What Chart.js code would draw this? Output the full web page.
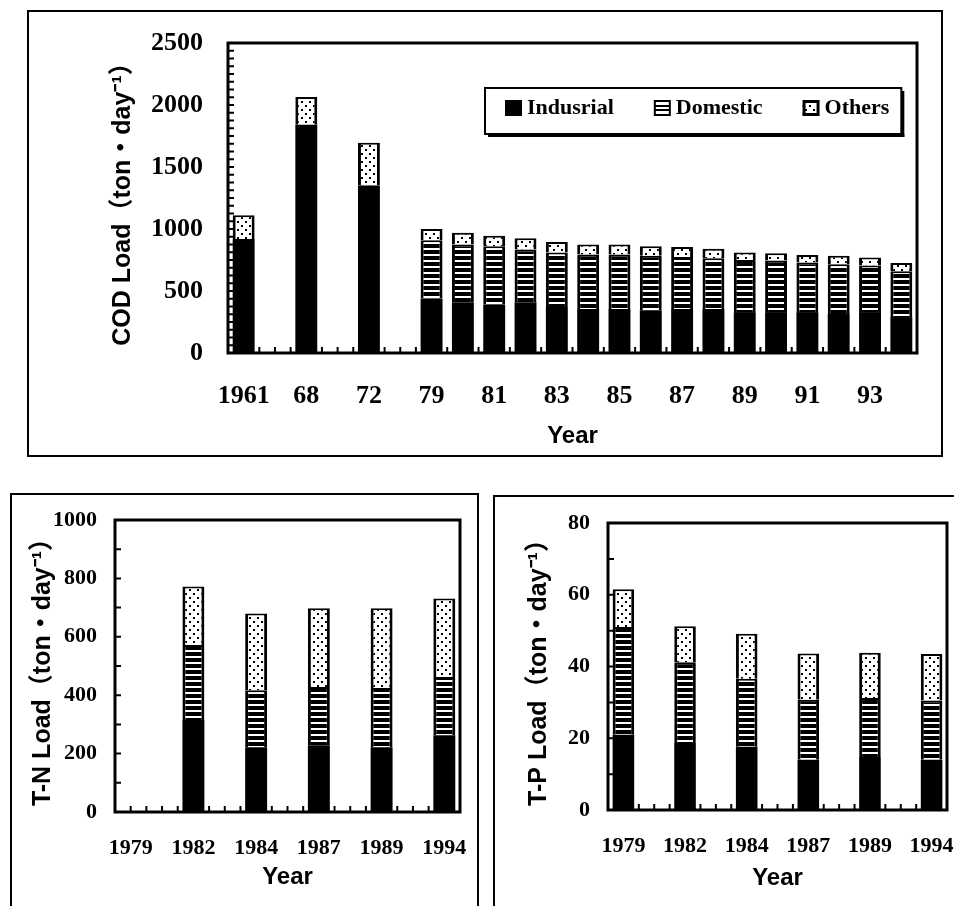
<!DOCTYPE html>
<html>
<head>
<meta charset="utf-8">
<script src="https://cdn.jsdelivr.net/npm/chart.js@4.4.0/dist/chart.umd.min.js"></script>
<style>
  html, body { margin: 0; padding: 0; background: #fff; width: 954px; height: 906px; overflow: hidden; }
  .frame { position: absolute; border: 2px solid #000; box-sizing: border-box; }
  canvas { position: absolute; }
</style>
</head>
<body>
<div class="frame" style="left:27px;top:10px;width:916px;height:447px"></div>
<div class="frame" style="left:10px;top:493px;width:469px;height:430px"></div>
<div class="frame" style="left:493px;top:495px;width:480px;height:430px"></div>
<canvas id="codChart" width="954" height="470" style="left:0;top:0"></canvas>
<canvas id="tnChart" width="480" height="426" style="left:0;top:480px"></canvas>
<canvas id="tpChart" width="474" height="426" style="left:480px;top:480px"></canvas>
<script>
// COD load (ton/day), empty slots keep the gaps between the early years
var codYears = ['1961', '', '1968', '', '1972', '', '1979', '1980', '1981', '1982', '1983', '1984', '1985', '1986',
    '1987', '1988', '1989', '1990', '1991', '1992', '1993', '1994'];
var codTickLabels = ['1961', '', '68', '', '72', '', '79', '', '81', '', '83', '', '85', '', '87', '', '89', '', '91', '', '93', ''];
var codIndustrial = [920, null, 1840, null, 1350, null, 440, 410, 390, 410, 370, 355, 355, 345, 355, 355, 330, 330, 330, 315, 330, 290];
var codDomestic = [null, null, null, null, null, null, 470, 465, 470, 425, 440, 440, 440, 440, 420, 410, 420, 415, 400, 400, 375, 370];
var codOthers = [190, null, 225, null, 345, null, 90, 95, 85, 90, 85, 80, 80, 75, 80, 75, 60, 60, 60, 70, 65, 65];
var codTicks = [0, 500, 1000, 1500, 2000, 2500];

// T-N load (ton/day)
var nYears = ['1979', '', '1982', '', '1984', '', '1987', '', '1989', '', '1994'];
var nIndustrial = [null, null, 315, null, 222, null, 229, null, 222, null, 263];
var nDomestic = [null, null, 257, null, 195, null, 199, null, 203, null, 199];
var nOthers = [null, null, 200, null, 263, null, 270, null, 273, null, 269];
var nTicks = [0, 200, 400, 600, 800, 1000];

// T-P load (ton/day)
var pYears = ['1979', '', '1982', '', '1984', '', '1987', '', '1989', '', '1994'];
var pIndustrial = [21, null, 18.7, null, 17.6, null, 14, null, 14.8, null, 14];
var pDomestic = [30, null, 22.5, null, 19, null, 16.7, null, 16.4, null, 16.5];
var pOthers = [10.5, null, 10, null, 12.5, null, 12.9, null, 12.6, null, 13];
var pTicks = [0, 20, 40, 60, 80];

var serif = "'Liberation Serif', 'Times New Roman', serif";
var sans = "'Liberation Sans', Arial, 'Noto Sans CJK JP', sans-serif";


function makeStripes(ctx) {
    var c = document.createElement('canvas');
    c.width = 6; c.height = 6;
    var g = c.getContext('2d');
    g.fillStyle = '#000';
    g.fillRect(0, 0, 6, 6);
    g.fillStyle = '#fff';
    g.fillRect(0, 2, 6, 2);
    return ctx.createPattern(c, 'repeat');
}

function makeDots(ctx) {
    var c = document.createElement('canvas');
    c.width = 8; c.height = 8;
    var g = c.getContext('2d');
    g.fillStyle = '#fff';
    g.fillRect(0, 0, 8, 8);
    g.fillStyle = '#000';
    g.fillRect(1, 1, 2, 2);
    g.fillRect(5, 5, 2, 2);
    return ctx.createPattern(c, 'repeat');
}

function buildDatasets(ctx, ind, dom, oth) {
    var edge = { left: 3, right: 3, top: 2, bottom: 0 };
    return [
        { label: 'Indusrial', data: ind, backgroundColor: '#000', borderWidth: 0 },
        { label: 'Domestic', data: dom, backgroundColor: makeStripes(ctx), borderColor: '#000', borderWidth: edge },
        { label: 'Others', data: oth, backgroundColor: makeDots(ctx), borderColor: '#000', borderWidth: edge }
    ];
}

// inward tick marks + heavy frame round the plot area
var axisDecor = {
    id: 'axisDecor',
    beforeDatasetsDraw: function (chart, args, opts) {
        var ctx = chart.ctx, a = chart.chartArea, x = chart.scales.x, y = chart.scales.y;
        ctx.save();
        ctx.strokeStyle = '#000';
        ctx.lineWidth = 2;
        ctx.beginPath();
        for (var v = y.min; v <= y.max + 1e-6; v += opts.minorStep) {
            var py = y.getPixelForValue(v);
            ctx.moveTo(a.left, py);
            ctx.lineTo(a.left + 6, py);
        }
        var slot = x.getPixelForValue(1) - x.getPixelForValue(0);
        for (var i = 0; i < chart.data.labels.length; i++) {
            var px = x.getPixelForValue(i);
            ctx.moveTo(px - slot / 2, a.bottom);
            ctx.lineTo(px - slot / 2, a.bottom - 6);
            ctx.moveTo(px, a.bottom);
            ctx.lineTo(px, a.bottom - 6);
        }
        ctx.stroke();
        ctx.restore();
    },
    afterDatasetsDraw: function (chart) {
        var ctx = chart.ctx, a = chart.chartArea;
        ctx.save();
        ctx.strokeStyle = '#000';
        ctx.lineWidth = 3;
        ctx.strokeRect(a.left, a.top, a.right - a.left, a.bottom - a.top);
        ctx.restore();
    }
};

// boxed legend inside the plot area (top chart only)
var boxLegend = {
    id: 'boxLegend',
    afterDraw: function (chart, args, opts) {
        if (!opts.show) return;
        var ctx = chart.ctx, a = chart.chartArea, sets = chart.data.datasets;
        ctx.save();
        ctx.font = 'bold 22px ' + serif;
        var sw = 17, gap = 40, widths = [];
        var total = 20 + 12;
        for (var i = 0; i < sets.length; i++) {
            widths.push(ctx.measureText(sets[i].label).width);
            total += sw + 5 + widths[i] + (i > 0 ? gap : 0);
        }
        var left = a.left + opts.offsetX, top = a.top + opts.offsetY, h = 46;
        ctx.fillStyle = '#fff';
        ctx.fillRect(left, top, total, h);
        ctx.strokeStyle = '#000';
        ctx.lineWidth = 2;
        ctx.strokeRect(left, top, total, h);
        ctx.fillStyle = '#000';
        ctx.fillRect(left + total, top + 3, 3, h);
        ctx.fillRect(left + 3, top + h, total, 3);

        var x = left + 20, cy = top + 20;
        ctx.textBaseline = 'middle';
        for (i = 0; i < sets.length; i++) {
            var sy = cy - 8;
            if (i === 0) {
                ctx.fillStyle = '#000';
                ctx.fillRect(x, sy, sw, 16);
            } else if (i === 1) {
                ctx.fillStyle = '#fff';
                ctx.fillRect(x, sy, sw, 16);
                ctx.lineWidth = 2;
                ctx.strokeRect(x + 1, sy + 1, sw - 2, 14);
                ctx.fillStyle = '#000';
                ctx.fillRect(x + 1, sy + 5, sw - 2, 2);
                ctx.fillRect(x + 1, sy + 9, sw - 2, 2);
            } else {
                ctx.fillStyle = sets[i].backgroundColor;
                ctx.fillRect(x, sy, sw, 16);
                ctx.lineWidth = 3;
                ctx.strokeRect(x + 1.5, sy + 1.5, sw - 3, 13);
            }
            ctx.fillStyle = '#000';
            ctx.fillText(sets[i].label, x + sw + 5, cy);
            x += sw + 5 + widths[i] + gap;
        }
        ctx.restore();
    }
};

function makeChart(id, cfg) {
    var canvas = document.getElementById(id);
    var ctx = canvas.getContext('2d');
    return new Chart(ctx, {
        type: 'bar',
        data: { labels: cfg.labels, datasets: buildDatasets(ctx, cfg.ind, cfg.dom, cfg.oth) },
        plugins: [axisDecor, boxLegend],
        options: {
            responsive: false,
            animation: false,
            devicePixelRatio: 1,
            categoryPercentage: 0.7,
            barPercentage: 1,
            layout: { padding: { top: cfg.padTop, right: cfg.padRight, left: 0, bottom: 0 } },
            plugins: {
                legend: { display: false },
                tooltip: { enabled: false },
                axisDecor: { minorStep: cfg.minorStep },
                boxLegend: { show: !!cfg.legend, offsetX: 257, offsetY: 45 }
            },
            scales: {
                x: {
                    stacked: true,
                    grid: { display: false, drawTicks: false },
                    border: { display: false },
                    ticks: {
                        autoSkip: false,
                        maxRotation: 0,
                        padding: cfg.xTickPad,
                        color: '#000',
                        font: { family: serif, size: cfg.tickSize, weight: 'bold' },
                        callback: function (value, index) { return cfg.tickLabels[index]; }
                    },
                    title: {
                        display: true,
                        text: 'Year',
                        color: '#000',
                        font: { family: sans, size: 24, weight: 'bold' },
                        padding: { top: 0, bottom: cfg.yearPad }
                    },
                    afterFit: function (scale) {
                        scale.height = cfg.xHeight;
                        scale.paddingLeft = 0;
                        scale.paddingRight = 0;
                    }
                },
                y: {
                    stacked: true,
                    min: 0,
                    max: cfg.yTicks[cfg.yTicks.length - 1],
                    grid: { display: false, drawTicks: false },
                    border: { display: false },
                    afterBuildTicks: function (scale) {
                        scale.ticks = cfg.yTicks.map(function (v) { return { value: v }; });
                    },
                    ticks: {
                        padding: cfg.yTickPad,
                        color: '#000',
                        font: { family: serif, size: cfg.tickSize, weight: 'bold' },
                        callback: function (value) { return String(value); }
                    },
                    title: {
                        display: true,
                        text: cfg.yTitle,
                        color: '#000',
                        font: { family: sans, size: 25, weight: 'bold' },
                        padding: { top: cfg.yTitlePad, bottom: 0 }
                    },
                    afterFit: function (scale) {
                        scale.width = cfg.yWidth;
                        scale.paddingTop = 0;
                        scale.paddingBottom = 0;
                    }
                }
            }
        }
    });
}

makeChart('codChart', {
    labels: codYears, tickLabels: codTickLabels,
    ind: codIndustrial, dom: codDomestic, oth: codOthers,
    yTicks: codTicks, minorStep: 62.5,
    yTitle: 'COD Load（ton・day⁻¹）',
    padTop: 43, padRight: 37, yWidth: 228, xHeight: 117,
    tickSize: 26, xTickPad: 28, yTickPad: 25, yTitlePad: 108, yearPad: 19,
    legend: true
});

makeChart('tnChart', {
    labels: nYears, tickLabels: nYears,
    ind: nIndustrial, dom: nDomestic, oth: nOthers,
    yTicks: nTicks, minorStep: 100,
    yTitle: 'T-N Load（ton・day⁻¹）',
    padTop: 40, padRight: 20, yWidth: 115, xHeight: 94,
    tickSize: 22, xTickPad: 23, yTickPad: 18, yTitlePad: 28, yearPad: 14
});

makeChart('tpChart', {
    labels: pYears, tickLabels: pYears,
    ind: pIndustrial, dom: pDomestic, oth: pOthers,
    yTicks: pTicks, minorStep: 10,
    yTitle: 'T-P Load（ton・day⁻¹）',
    padTop: 43, padRight: 7, yWidth: 128, xHeight: 96,
    tickSize: 22, xTickPad: 23, yTickPad: 18, yTitlePad: 44, yearPad: 13
});
</script>
</body>
</html>
